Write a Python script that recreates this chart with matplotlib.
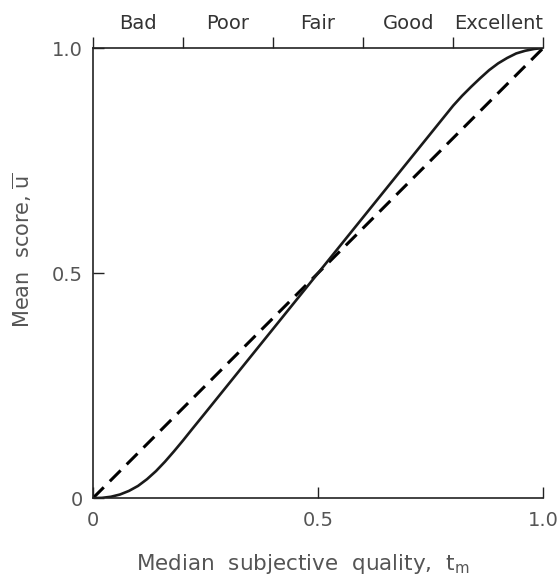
import numpy as np
import matplotlib.pyplot as plt

# median subjective quality t_m vs mean score (solid S-curve)
tm = [0.0, 0.02, 0.04, 0.06, 0.08, 0.10, 0.12, 0.14, 0.16, 0.18, 0.20, 0.22,
      0.25, 0.50, 0.80, 0.82, 0.84, 0.86, 0.88, 0.90, 0.92,
      0.94, 0.96, 0.98, 1.0]
score = [0.0, 0.0005, 0.003, 0.008, 0.016, 0.027, 0.042, 0.060, 0.081, 0.104,
         0.128, 0.153, 0.19, 0.50, 0.872, 0.894, 0.914, 0.933, 0.951,
         0.966, 0.978, 0.988, 0.994, 0.998, 1.0]
# dashed reference line u = t_m
diag = [0.0, 1.0]

ticks = [0, 0.5, 1.0]
tick_labels = ["0", "0.5", "1.0"]
scale_edges = [0, 0.2, 0.4, 0.6, 0.8, 1.0]
scale_mid = [0.1, 0.3, 0.5, 0.7, 0.9]
scale_names = ["Bad", "Poor", "Fair", "Good", "Excellent"]

grey = "#555555"
plt.rcParams['font.family'] = ['DejaVu Sans']

fig = plt.figure(figsize=(5.6, 5.86), dpi=100)
ax = fig.add_axes([0.166, 0.150, 0.804, 0.768])

ax.plot(diag, diag, color="black", lw=2.2, dashes=(5, 2.8))
ax.plot(tm, score, color="#1a1a1a", lw=1.9, solid_capstyle="round",
        solid_joinstyle="round")

ax.set_xlim(0, 1)
ax.set_ylim(0, 1)
ax.spines["right"].set_visible(False)
for s in ["left", "bottom", "top"]:
    ax.spines[s].set_linewidth(1.2)
    ax.spines[s].set_color("#222222")

ax.set_xticks(ticks)
ax.set_xticklabels(tick_labels)
ax.set_yticks(ticks)
ax.set_yticklabels(tick_labels)
ax.tick_params(direction="in", length=8, width=1.0, color="#222222",
               labelsize=14, labelcolor=grey)
ax.tick_params(axis="x", pad=9)
ax.tick_params(axis="y", pad=7)

top = ax.secondary_xaxis("top")
top.set_xticks(scale_edges)
top.set_xticklabels([""] * len(scale_edges))
top.set_xticks(scale_mid, minor=True)
top.set_xticklabels(scale_names, minor=True)
top.tick_params(which="major", direction="out", length=8, width=1.0, color="#222222")
top.tick_params(which="minor", length=0, labelsize=14, labelcolor="#333333", pad=11)
top.spines["top"].set_visible(False)

ax.set_xlabel("Median  subjective  quality,  $\\mathregular{t_m}$",
              fontsize=15.5, color=grey)
ax.xaxis.set_label_coords(0.465, -0.12)
ax.set_ylabel("Mean  score, $\\mathregular{\\overline{u}}$",
              fontsize=15, color=grey)
ax.yaxis.set_label_coords(-0.13, 0.55)

fig.savefig("out.png", dpi=100)
